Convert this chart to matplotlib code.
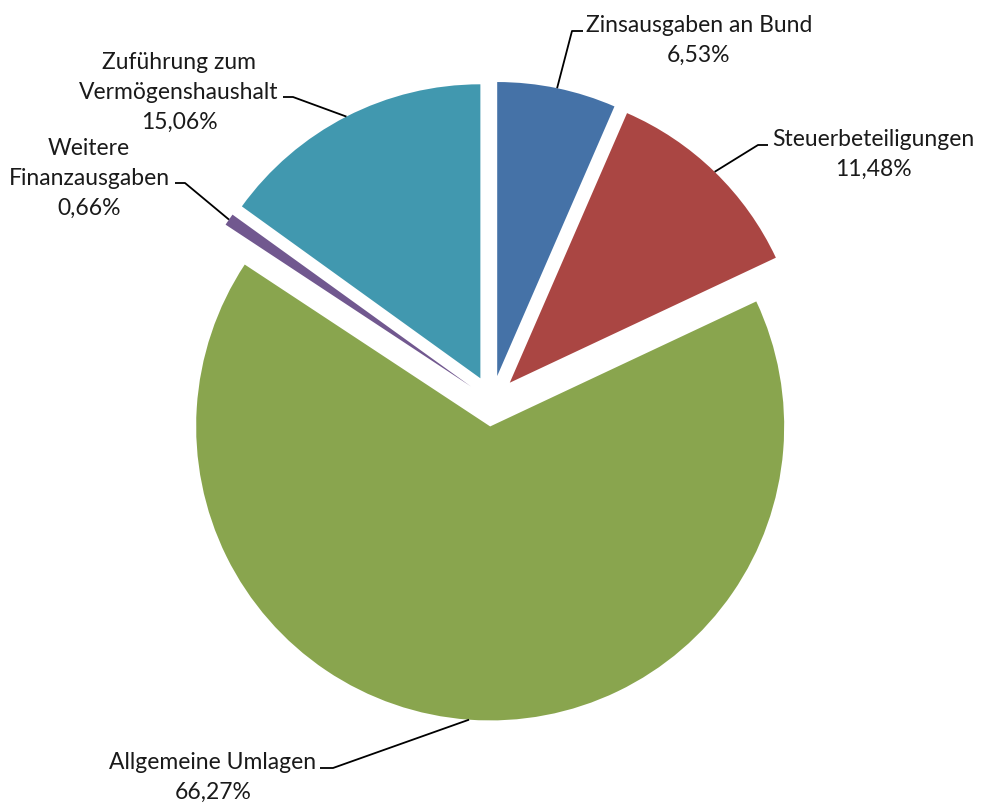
import numpy as np
import matplotlib
matplotlib.use("Agg")
from matplotlib import pyplot as plt

# Ausgaben-Anteile (Excel-Tortendiagramm, im Uhrzeigersinn ab 12 Uhr)
labels = ["Zinsausgaben an Bund", "Steuerbeteiligungen", "Allgemeine Umlagen",
          "Weitere Finanzausgaben", "Zuführung zum Vermögenshaushalt"]
shares = [6.53, 11.48, 66.27, 0.66, 15.06]
colors = ["#4572A7", "#AA4643", "#89A54E", "#71588F", "#4198AF"]

# Beschriftungszeilen wie im Original
label_lines = [
    ["Zinsausgaben an Bund", "6,53%"],
    ["Steuerbeteiligungen", "11,48%"],
    ["Allgemeine Umlagen", "66,27%"],
    ["Weitere", "Finanzausgaben", "0,66%"],
    ["Zuführung zum", "Vermögenshaushalt", "15,06%"],
]

W, H = 981, 804
# layout in pixel coords (y from top): text center x, first baseline, leader elbow, leader end
text_pos = [(699, 32), (873, 146), (213, 769), (89, 155), (179, 69)]
elbows = [((572, 32), (583, 32)),
          ((758, 146), (768, 146)),
          ((333, 769), (320, 769)),
          ((185, 184), (175, 184)),
          ((293, 98), (283, 98))]
line_gap = 30
R = 294
offset = 25.5  # explode distance in pixels

fig = plt.figure(figsize=(W / 100, H / 100), dpi=100)
ax = fig.add_axes([0, 0, 1, 1])

# pie's explode is in data units here (pixel-sized axes)
wedges, _ = ax.pie(shares, colors=colors, startangle=90, counterclock=False,
                   explode=[offset] * len(shares), radius=R,
                   center=(492, H - 402),
                   wedgeprops=dict(edgecolor="none", linewidth=0))

ax.set_xlim(0, W)
ax.set_ylim(0, H)
ax.set_aspect("equal")
ax.axis("off")

for w, lines, (tx, ty), (elb, end) in zip(wedges, label_lines, text_pos, elbows):
    mid = np.deg2rad((w.theta1 + w.theta2) / 2)
    sx = w.center[0] + w.r * np.cos(mid)
    sy = w.center[1] + w.r * np.sin(mid)
    ax.plot([sx, elb[0], end[0]], [sy, H - elb[1], H - end[1]],
            color="black", lw=1.3, solid_capstyle="butt")
    for i, t in enumerate(lines):
        ax.text(tx, H - (ty + i * line_gap), t, ha="center", va="baseline",
                fontsize=16.5, family=["Lato", "DejaVu Sans"], color="#1a1a1a")

fig.savefig("out.png", dpi=100)
